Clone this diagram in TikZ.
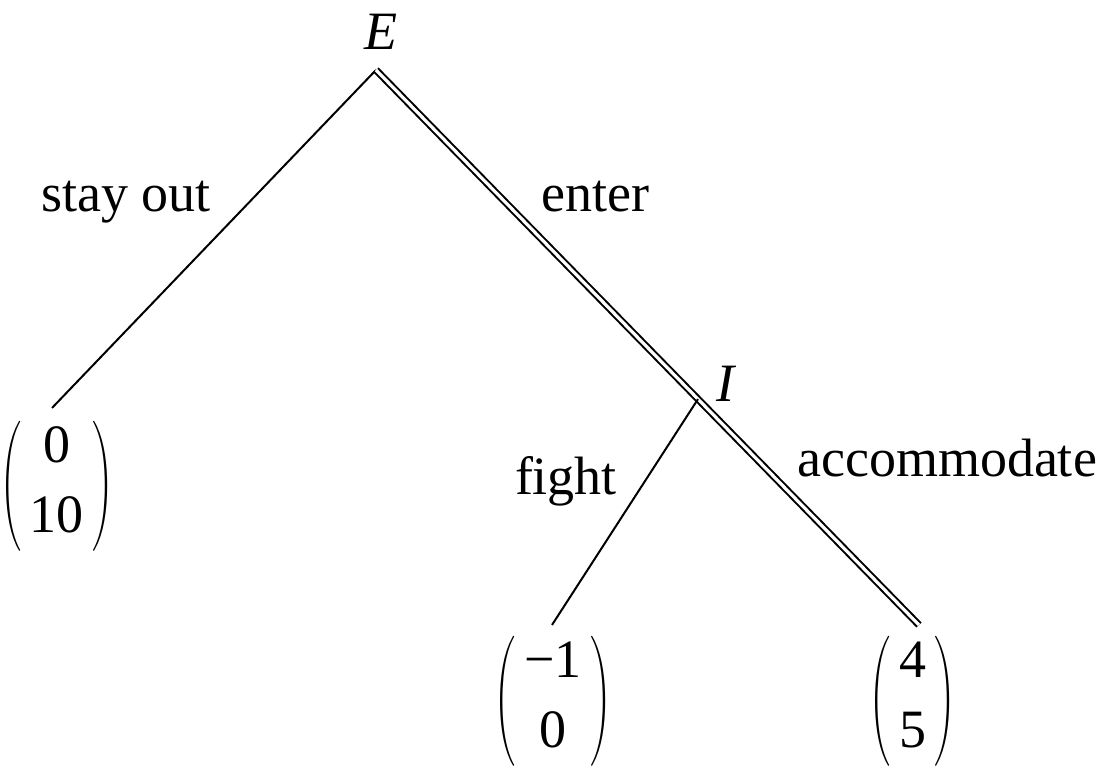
\documentclass[tikz,border=0pt]{standalone}
\usepackage{amsmath}
\usepackage{graphicx}
\usepackage{fontspec}
\setmainfont{Liberation Serif}
\usetikzlibrary{calc}
\newcommand\payrows[2]{\begin{array}{@{\hspace{1.5pt}}c@{\hspace{1.5pt}}}\text{#1}\\[1.5pt]\text{#2}\end{array}}
\newcommand\payoff[2]{$\scalebox{0.5}[0.94]{$\left(\vphantom{\payrows{0}{0}}\right.$}\payrows{#1}{#2}\scalebox{0.5}[0.94]{$\left.\vphantom{\payrows{0}{0}}\right)$}$}

\begin{document}
\begin{tikzpicture}[x=0.25pt, y=-0.25pt, font=\fontsize{13.5}{16}\selectfont,
  edge/.style={line width=0.5pt},
  path/.style={line width=0.5pt, double, double distance=0.8pt},
  lab/.style={inner sep=0pt, anchor=base},
  leaf/.style={inner sep=0pt}]
\useasboundingbox (0,0) rectangle (1107,766);

% ---- decision nodes
\coordinate (root) at (376,70);
\coordinate (l1) at (52,408);
\coordinate (l2) at (552,625);
\coordinate (l3) at (919,625);
\coordinate (ip) at ($(root)!0.593!(l3)$);
\node[lab] (E) at (381,50) {\textit{E}};
\node[lab] (I) at (727,402) {\textit{I}};

% ---- payoffs
\node[leaf] (p1) at (57,485) {\payoff{0}{10}};
\node[leaf] (p2) at (553,700) {\payoff{−1}{0}};
\node[leaf] (p3) at (913,700) {\payoff{4}{5}};

% ---- branches
\draw[edge] (root) -- (l1);
\draw[path] (root) -- (l3);
\draw[edge] (ip) -- (l2);

% ---- actions
\node[lab] (so) at (126,212) {stay out};
\node[lab] (en) at (595,212) {enter};
\node[lab] (fi) at (566,495) {fight};
\node[lab] (ac) at (947,477) {accommodate};
\end{tikzpicture}
\end{document}
